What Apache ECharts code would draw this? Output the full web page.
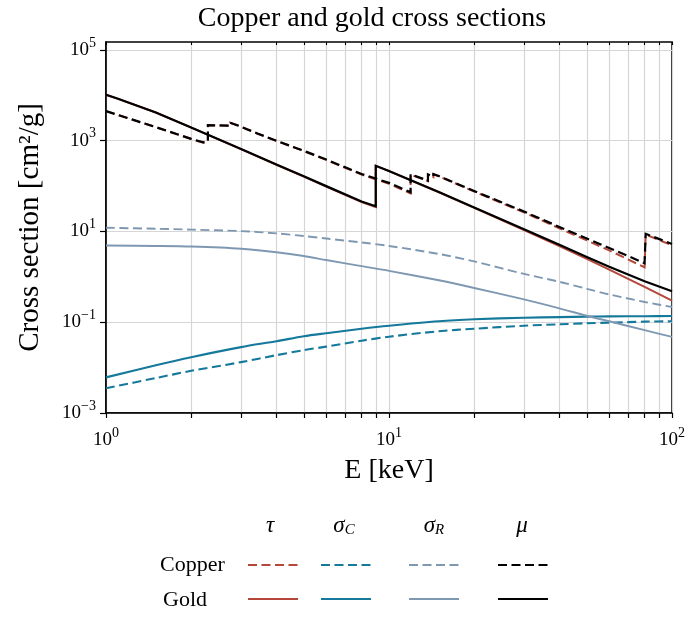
<!DOCTYPE html>
<html>
<head>
<meta charset="utf-8">
<script src="https://cdn.jsdelivr.net/npm/echarts@6/dist/echarts.min.js"></script>
<style>
  html, body { margin: 0; padding: 0; background: #fff; }
  #chart { width: 688px; height: 617px; }
</style>
</head>
<body>
<div id="chart"></div>
<script>
// Photon energy grid (keV) for the smooth scattering curves
const scatterEnergy = [1, 1.5, 2, 3, 4, 5, 6, 8, 10, 15, 20, 30, 40, 50, 60, 80, 100];

// Scattering cross sections (cm^2/g)
const copperSigmaC = [0.0035, 0.0059, 0.0085, 0.0132, 0.0188, 0.0243, 0.029, 0.0392, 0.048, 0.0634, 0.072, 0.084, 0.090, 0.095, 0.098, 0.103, 0.105];
const copperSigmaR = [12.1, 11.5, 11.0, 10.2, 9.1, 7.96, 7.0, 5.73, 4.80, 3.2, 2.19, 1.16, 0.78, 0.545, 0.41, 0.28, 0.217];
const goldSigmaC = [0.0061, 0.0113, 0.0170, 0.0283, 0.0382, 0.0492, 0.0573, 0.0719, 0.0838, 0.105, 0.116, 0.126, 0.130, 0.133, 0.135, 0.136, 0.137];
const goldSigmaR = [4.9, 4.8, 4.66, 4.17, 3.48, 2.88, 2.35, 1.72, 1.36, 0.84, 0.57, 0.32, 0.203, 0.139, 0.105, 0.067, 0.0475];

// Absorption curves with their edges (repeated energies mark the jumps)
const copperEdgeEnergy = [1, 1.5, 2, 2.206, 2.206, 2.291, 2.291, 2.743, 2.743, 3.0, 3.148, 3.148, 3.425, 3.425, 4, 5, 6, 8, 10, 11.92, 11.92, 13.73, 13.73, 14.35, 14.35, 15, 20, 30, 40, 50, 60, 80, 80.72, 80.72, 100];
const copperMu  = [4500, 2000, 1100, 920, 1000, 960, 2200, 2150, 2500, 2050, 1800, 1950, 1450, 1520, 1000, 600, 385, 185, 118, 73, 183, 132, 181, 160, 185, 167, 78, 27.5, 12.6, 7.0, 4.35, 2.0, 1.85, 8.9, 5.3];
const copperTau = [4490, 1990, 1090, 909, 989, 949, 2189, 2140, 2490, 2040, 1790, 1940, 1440, 1510, 991, 592, 378, 179, 113, 68.8, 179, 128.5, 177.5, 156.5, 181.5, 164, 75.7, 26.3, 11.7, 6.36, 3.84, 1.62, 1.47, 8.52, 4.98];

const goldEdgeEnergy = [1, 1.0967, 1.0967, 1.5, 2, 3, 4, 5, 6, 8, 8.979, 8.979, 10, 15, 20, 30, 40, 50, 60, 80, 100];
const goldMu  = [10300, 8500, 9300, 4200, 1950, 660, 300, 165, 100, 46, 36, 280, 216, 74, 33.8, 11.2, 5.1, 2.75, 1.68, 0.80, 0.48];
const goldTau = [10290, 8495, 9295, 4195, 1945, 655, 296, 162, 97.5, 44.3, 34.6, 279, 214.6, 73.1, 33.2, 10.8, 4.75, 2.5, 1.44, 0.60, 0.30];

// Axis ticks
const xMajorTicks = [1, 10, 100];
const xMinorTicks = [2, 3, 4, 5, 6, 7, 8, 9, 20, 30, 40, 50, 60, 70, 80, 90];
const xTickExponents = ['0', '1', '2'];
const yTicks = [0.001, 0.1, 10, 1000, 100000];
const yTickExponents = ['\u22123', '\u22121', '1', '3', '5'];

const SERIF = '"Liberation Serif", "DejaVu Serif", serif';
const COL_TAU = '#b5473a';
const COL_C = '#15799b';
const COL_R = '#7f98b2';
const COL_MU = '#000000';
const DASH = [9, 4.5];

const pairs = (xs, ys) => xs.map((x, i) => [x, ys[i]]);
const allXTicks = xMajorTicks.concat(xMinorTicks).sort((a, b) => a - b);

function lineSeries(name, xs, ys, color, width, dashed, smooth, z) {
  return {
    name: name,
    type: 'line',
    data: pairs(xs, ys),
    symbol: 'none',
    showSymbol: false,
    smooth: smooth ? 0.3 : false,
    z: z,
    lineStyle: { color: color, width: width, type: dashed ? DASH : 'solid', cap: 'butt', join: 'miter' },
    itemStyle: { color: color },
    emphasis: { disabled: true },
    animation: false
  };
}

const series = [
  lineSeries('Copper τ', copperEdgeEnergy, copperTau, COL_TAU, 2, true, false, 2),
  lineSeries('Gold τ', goldEdgeEnergy, goldTau, COL_TAU, 2, false, false, 2),
  lineSeries('Copper σC', scatterEnergy, copperSigmaC, COL_C, 2.1, true, true, 3),
  lineSeries('Gold σC', scatterEnergy, goldSigmaC, COL_C, 2.1, false, true, 3),
  lineSeries('Copper σR', scatterEnergy, copperSigmaR, COL_R, 1.9, true, true, 4),
  lineSeries('Gold σR', scatterEnergy, goldSigmaR, COL_R, 1.9, false, true, 4),
  lineSeries('Copper μ', copperEdgeEnergy, copperMu, COL_MU, 2.2, true, false, 5),
  lineSeries('Gold μ', goldEdgeEnergy, goldMu, COL_MU, 2.2, false, false, 5)
];

// Legend laid out as a table: one legend per cell
const legendCols = { 'τ': 247, 'σC': 320, 'σR': 408, 'μ': 497 };
const legendRows = { 'Copper': 558, 'Gold': 592 };
const legends = [];
Object.keys(legendRows).forEach(row => {
  Object.keys(legendCols).forEach(col => {
    legends.push({
      data: [row + ' ' + col],
      left: legendCols[col],
      top: legendRows[row],
      padding: 0,
      itemWidth: 50,
      itemHeight: 14,
      itemGap: 0,
      selectedMode: false,
      itemStyle: { opacity: 0, borderWidth: 0 },
      formatter: () => '',
      textStyle: { fontSize: 1 }
    });
  });
});

const supRich = {
  b: { fontFamily: SERIF, fontSize: 19, color: '#000', lineHeight: 28 },
  s: { fontFamily: SERIF, fontSize: 14, color: '#000', verticalAlign: 'top', lineHeight: 14 }
};

const subRich = {
  g: { fontFamily: SERIF, fontStyle: 'italic', fontSize: 23, color: '#000', lineHeight: 24 },
  c: { fontFamily: SERIF, fontStyle: 'italic', fontSize: 15, color: '#000', verticalAlign: 'bottom', lineHeight: 12 }
};

const chart = echarts.init(document.getElementById('chart'), null, { renderer: 'canvas' });
chart.setOption({
  animation: false,
  backgroundColor: '#fff',
  title: {
    text: 'Copper and gold cross sections',
    left: 372,
    top: 5,
    padding: 0,
    textAlign: 'center',
    textStyle: { fontFamily: SERIF, fontSize: 28, fontWeight: 'normal', color: '#000' }
  },
  grid: {
    left: 106, right: 15, top: 42, bottom: 204,
    show: true, borderColor: '#000', borderWidth: 1.6, backgroundColor: 'transparent'
  },
  legend: legends,
  xAxis: [{
    type: 'log',
    logBase: 10,
    min: 1,
    max: 100,
    position: 'bottom',
    name: 'E [keV]',
    nameLocation: 'middle',
    nameGap: 44,
    nameTextStyle: { fontFamily: SERIF, fontSize: 28, color: '#000' },
    axisLine: { show: true, lineStyle: { color: '#000', width: 1.6 } },
    axisTick: { show: true, length: 5, inside: false, customValues: allXTicks, lineStyle: { color: '#000', width: 1.2 } },
    axisLabel: {
      customValues: xMajorTicks,
      margin: 13,
      formatter: v => '{b|10}{s|' + xTickExponents[xMajorTicks.indexOf(v)] + '}',
      rich: supRich
    },
    splitLine: { show: true, lineStyle: { color: '#d6d6d6', width: 1.2 } },
    minorTick: { show: false },
    minorSplitLine: { show: false }
  }, {
    type: 'log',
    logBase: 10,
    min: 1,
    max: 100,
    position: 'top',
    axisLine: { show: false },
    axisTick: { show: true, inside: true, length: 3, customValues: allXTicks, lineStyle: { color: '#000', width: 1.1 } },
    axisLabel: { show: false },
    splitLine: { show: false }
  }],
  yAxis: [{
    type: 'log',
    logBase: 10,
    min: 0.001,
    max: 150000,
    name: 'Cross section [cm²/g]',
    nameLocation: 'middle',
    nameGap: 61,
    nameTextStyle: { fontFamily: SERIF, fontSize: 29, color: '#000' },
    axisLine: { show: true, lineStyle: { color: '#000', width: 1.6 } },
    axisTick: { show: true, length: 6, customValues: yTicks, lineStyle: { color: '#000', width: 1.2 } },
    axisLabel: {
      customValues: yTicks,
      margin: 10,
      formatter: v => '{b|10}{s|' + yTickExponents[yTicks.indexOf(v)] + '}',
      rich: supRich
    },
    splitLine: { show: true, lineStyle: { color: '#d6d6d6', width: 1.2 } }
  }],
  series: series,
  graphic: [
    { type: 'text', x: 270, y: 526, style: { text: 'τ', font: 'italic 23px ' + SERIF, fill: '#000', textAlign: 'center', textVerticalAlign: 'middle' } },
    { type: 'text', x: 344, y: 526, style: { text: '{g|σ}{c|C}', textAlign: 'center', textVerticalAlign: 'middle', rich: subRich } },
    { type: 'text', x: 434, y: 526, style: { text: '{g|σ}{c|R}', textAlign: 'center', textVerticalAlign: 'middle', rich: subRich } },
    { type: 'text', x: 522, y: 526, style: { text: 'μ', font: 'italic 23px ' + SERIF, fill: '#000', textAlign: 'center', textVerticalAlign: 'middle' } },
    { type: 'text', x: 160, y: 565, style: { text: 'Copper', font: '22px ' + SERIF, fill: '#000', textAlign: 'left', textVerticalAlign: 'middle' } },
    { type: 'text', x: 163, y: 600, style: { text: 'Gold', font: '22px ' + SERIF, fill: '#000', textAlign: 'left', textVerticalAlign: 'middle' } }
  ]
});
</script>
</body>
</html>
